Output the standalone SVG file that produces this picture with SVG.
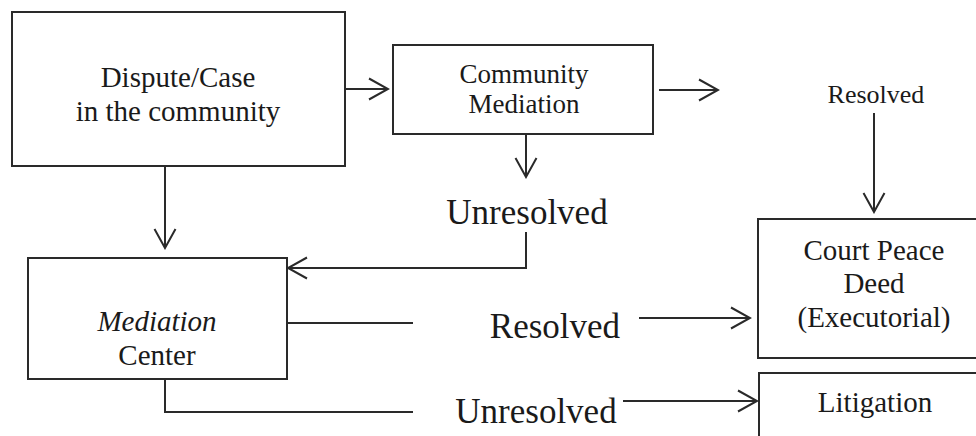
<svg xmlns="http://www.w3.org/2000/svg" width="976" height="436" viewBox="0 0 976 436">
<defs>
<style>
.box{fill:#fff;stroke:#2a2a2a;stroke-width:2}
.ln{fill:none;stroke:#2a2a2a;stroke-width:2}
text{font-family:'Liberation Serif','Times New Roman','DejaVu Serif',serif;fill:#1a1a1a;text-anchor:middle}
</style>
<marker id="ah" viewBox="0 0 22 24" refX="20" refY="12" markerWidth="22" markerHeight="24" markerUnits="userSpaceOnUse" orient="auto">
<path d="M1 1.5 L20 12 L1 22.5" fill="none" stroke="#2a2a2a" stroke-width="2"/>
</marker>
</defs>
<rect width="976" height="436" fill="#fff"/>
<g id="dispute">
<rect class="box" x="12" y="12" width="333" height="154"/>
<text x="178" y="87" font-size="29">Dispute/Case</text>
<text x="178" y="121" font-size="29">in the community</text>
</g>
<g id="community-mediation">
<rect class="box" x="393" y="45" width="260" height="89"/>
<text x="524" y="83" font-size="27">Community</text>
<text x="524" y="113" font-size="27">Mediation</text>
</g>
<g id="mediation-center">
<rect class="box" x="28" y="258" width="259" height="121"/>
<text x="157" y="331" font-size="29" font-style="italic">Mediation</text>
<text x="157" y="365" font-size="29">Center</text>
</g>
<g id="court-peace-deed">
<rect class="box" x="758" y="219" width="240" height="139"/>
<text x="874" y="260" font-size="29">Court Peace</text>
<text x="874" y="293" font-size="29">Deed</text>
<text x="874" y="327" font-size="29">(Executorial)</text>
</g>
<g id="litigation">
<rect class="box" x="759" y="373" width="240" height="80"/>
<text x="875" y="412" font-size="29">Litigation</text>
</g>
<g id="labels">
<text x="876" y="103" font-size="26">Resolved</text>
<text x="527" y="224" font-size="35">Unresolved</text>
<text x="555" y="338" font-size="35">Resolved</text>
<text x="536" y="423" font-size="35">Unresolved</text>
</g>
<g id="connectors">
<path class="ln" d="M345 89 H388" marker-end="url(#ah)"/>
<path class="ln" d="M659 90 H718" marker-end="url(#ah)"/>
<path class="ln" d="M874 113 V212" marker-end="url(#ah)"/>
<path class="ln" d="M526 134 V177" marker-end="url(#ah)"/>
<path class="ln" d="M526 232 V268 H288" marker-end="url(#ah)"/>
<path class="ln" d="M165 166 V248" marker-end="url(#ah)"/>
<path class="ln" d="M287 323 H413"/>
<path class="ln" d="M639 318 H750" marker-end="url(#ah)"/>
<path class="ln" d="M165 379 V412 H413"/>
<path class="ln" d="M623 401 H757" marker-end="url(#ah)"/>
</g>
</svg>
